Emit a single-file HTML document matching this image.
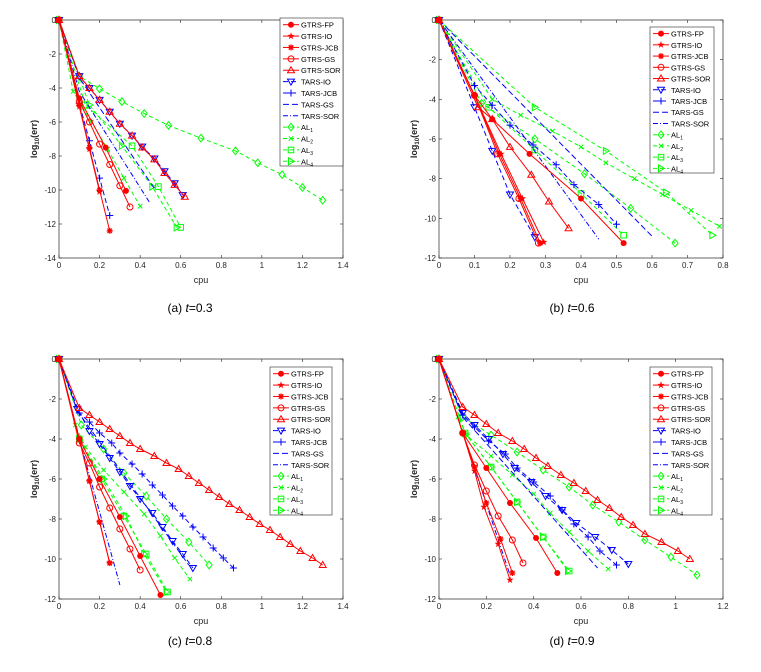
<!DOCTYPE html>
<html><head><meta charset="utf-8"><style>
body{margin:0;background:#fff;width:761px;height:672px;overflow:hidden}
svg{display:block}
text{font-family:"Liberation Sans",sans-serif}
</style></head><body>
<svg id="fig" width="761" height="672" viewBox="0 0 761 672"></svg>
<script>
// ---------- data: panel (a) t=0.3 ----------
const a_FP=[[0,0],[0.1,-4.6],[0.23,-7.5],[0.33,-10.05]];
const a_IO=[[0,0],[0.1,-5.1],[0.15,-7.6],[0.2,-10.1]];
const a_JCB=[[0,0],[0.1,-5],[0.15,-7.5],[0.2,-10],[0.25,-12.4]];
const a_GS=[[0,0],[0.1,-4.8],[0.15,-6],[0.2,-7.3],[0.25,-8.5],[0.3,-9.75],[0.35,-11]];
const a_SOR=[[0,0],[0.1,-3.3],[0.15,-4],[0.2,-4.7],[0.25,-5.4],[0.3,-6.1],[0.36,-6.8],[0.41,-7.5],[0.47,-8.2],[0.52,-9],[0.57,-9.7],[0.62,-10.4]];
const a_TIO=[[0,0],[0.1,-3.3],[0.15,-4],[0.2,-4.7],[0.25,-5.4],[0.3,-6.1],[0.36,-6.8],[0.41,-7.45],[0.47,-8.15],[0.52,-8.9],[0.57,-9.6],[0.61,-10.3]];
const a_TJCB=[[0,0],[0.1,-4.9],[0.15,-7.1],[0.2,-9.3],[0.25,-11.5]];
const a_TGS=[[0,0],[0.1,-3.4],[0.47,-9.9]];
const a_TSOR=[[0,0],[0.1,-4.2],[0.45,-10.8]];
const a_AL1=[[0,0],[0.1,-3.3],[0.2,-4.05],[0.31,-4.8],[0.42,-5.5],[0.54,-6.2],[0.7,-6.95],[0.87,-7.7],[0.98,-8.4],[1.1,-9.1],[1.2,-9.85],[1.3,-10.6]];
const a_AL2=[[0,0],[0.07,-4.2],[0.16,-6],[0.24,-7.6],[0.32,-9.3],[0.4,-10.95]];
const a_AL3=[[0,0],[0.13,-5],[0.36,-7.4],[0.49,-9.8],[0.6,-12.2]];
const a_AL4=[[0,0],[0.15,-5],[0.31,-7.4],[0.46,-9.8],[0.58,-12.2]];
// ---------- panel (b) t=0.6 ----------
const b_FP=[[0,0],[0.1,-3.8],[0.15,-5],[0.255,-6.75],[0.4,-9],[0.52,-11.25]];
const b_IO=[[0,0],[0.1,-3.8],[0.175,-6.75],[0.235,-9],[0.295,-11.2]];
const b_JCB=[[0,0],[0.1,-3.8],[0.17,-6.75],[0.23,-9],[0.285,-11.25]];
const b_GS=[[0,0],[0.1,-3.8],[0.165,-6.75],[0.225,-9],[0.28,-11.25]];
const b_SOR=[[0,0],[0.11,-4.4],[0.15,-5],[0.2,-6.4],[0.26,-7.8],[0.31,-9.15],[0.365,-10.5]];
const b_TIO=[[0,0],[0.1,-4.4],[0.15,-6.6],[0.2,-8.8],[0.27,-10.95]];
const b_TJCB=[[0,0],[0.1,-3.3],[0.15,-4.3],[0.2,-5.3],[0.265,-6.3],[0.33,-7.3],[0.38,-8.3],[0.45,-9.3],[0.5,-10.3]];
const b_TGS=[[0,0],[0.6,-10.9]];
const b_TSOR=[[0,0],[0.45,-11.05]];
const b_AL1=[[0,0],[0.12,-4.2],[0.27,-6],[0.41,-7.75],[0.54,-9.5],[0.665,-11.25]];
const b_AL2=[[0,0],[0.15,-4],[0.23,-4.8],[0.32,-5.6],[0.4,-6.4],[0.47,-7.2],[0.55,-8],[0.63,-8.8],[0.71,-9.6],[0.79,-10.4]];
const b_AL3=[[0,0],[0.14,-4.4],[0.27,-6.55],[0.4,-8.75],[0.52,-10.85]];
const b_AL4=[[0,0],[0.27,-4.4],[0.47,-6.6],[0.64,-8.7],[0.77,-10.85]];
// ---------- panel (c) t=0.8 ----------
const c_FP=[[0,0],[0.1,-4],[0.2,-6],[0.3,-7.9],[0.4,-9.85],[0.5,-11.8]];
const c_IO=[[0,0],[0.1,-4],[0.15,-6.1],[0.2,-8.15],[0.25,-10.2]];
const c_JCB=[[0,0],[0.1,-4],[0.15,-6.1],[0.2,-8.15],[0.25,-10.2]];
const c_GS=[[0,0],[0.1,-4.2],[0.15,-5.2],[0.2,-6.4],[0.25,-7.45],[0.3,-8.5],[0.35,-9.5],[0.4,-10.55]];
const c_SOR=[[0,0],[0.1,-2.45],[0.15,-2.8],[0.2,-3.15],[0.25,-3.5],[0.3,-3.85],[0.35,-4.2],[0.4,-4.5],[0.47,-4.85],[0.53,-5.2],[0.59,-5.5],[0.64,-5.85],[0.69,-6.2],[0.74,-6.55],[0.79,-6.9],[0.84,-7.25],[0.89,-7.55],[0.94,-7.9],[0.99,-8.25],[1.04,-8.55],[1.09,-8.9],[1.14,-9.25],[1.19,-9.6],[1.25,-9.95],[1.3,-10.3]];
const c_TIO=[[0,0],[0.09,-2.5],[0.15,-3.6],[0.2,-4.25],[0.25,-4.95],[0.3,-5.65],[0.35,-6.35],[0.4,-7],[0.46,-7.7],[0.51,-8.4],[0.56,-9.1],[0.61,-9.75],[0.66,-10.45]];
const c_TJCB=[[0,0],[0.1,-2.7],[0.15,-3.15],[0.2,-3.7],[0.26,-4.2],[0.3,-4.7],[0.36,-5.25],[0.41,-5.75],[0.46,-6.3],[0.51,-6.8],[0.56,-7.35],[0.61,-7.85],[0.66,-8.4],[0.71,-8.9],[0.76,-9.45],[0.81,-9.95],[0.86,-10.45]];
const c_TGS=[[0,0],[0.09,-2.6],[0.64,-10.3]];
const c_TSOR=[[0,0],[0.1,-4],[0.3,-11.3]];
const c_AL1=[[0,0],[0.11,-3.3],[0.22,-4.5],[0.32,-5.7],[0.43,-6.85],[0.53,-8],[0.64,-9.15],[0.74,-10.3]];
const c_AL2=[[0,0],[0.08,-3.3],[0.13,-4.4],[0.22,-5.55],[0.32,-6.65],[0.42,-7.75],[0.5,-8.85],[0.57,-9.95],[0.645,-11]];
const c_AL3=[[0,0],[0.1,-4],[0.21,-6],[0.32,-7.85],[0.43,-9.75],[0.535,-11.65]];
const c_AL4=[[0,0],[0.1,-4],[0.22,-6],[0.33,-7.85],[0.42,-9.75],[0.53,-11.65]];
// ---------- panel (d) t=0.9 ----------
const d_FP=[[0,0],[0.1,-3.7],[0.2,-5.45],[0.3,-7.2],[0.41,-8.95],[0.5,-10.7]];
const d_IO=[[0,0],[0.1,-3.7],[0.15,-5.6],[0.19,-7.4],[0.25,-9.25],[0.3,-11.05]];
const d_JCB=[[0,0],[0.1,-3.7],[0.15,-5.4],[0.2,-7.2],[0.26,-9],[0.31,-10.7]];
const d_GS=[[0,0],[0.1,-3.7],[0.15,-5.3],[0.2,-6.6],[0.25,-7.85],[0.31,-9.05],[0.355,-10.2]];
const d_SOR=[[0,0],[0.1,-2.4],[0.15,-2.8],[0.2,-3.25],[0.25,-3.7],[0.31,-4.1],[0.36,-4.5],[0.41,-4.95],[0.46,-5.35],[0.515,-5.8],[0.57,-6.2],[0.62,-6.6],[0.67,-7.05],[0.72,-7.45],[0.77,-7.9],[0.82,-8.3],[0.87,-8.75],[0.94,-9.15],[1.01,-9.6],[1.06,-10]];
const d_TIO=[[0,0],[0.1,-2.7],[0.15,-3.3],[0.21,-4],[0.27,-4.75],[0.32,-5.45],[0.39,-6.15],[0.45,-6.85],[0.52,-7.55],[0.58,-8.2],[0.66,-8.9],[0.73,-9.55],[0.8,-10.25]];
const d_TJCB=[[0,0],[0.1,-2.8],[0.15,-3.4],[0.21,-4.1],[0.28,-4.75],[0.33,-5.45],[0.4,-6.15],[0.47,-6.85],[0.52,-7.55],[0.57,-8.25],[0.63,-8.9],[0.68,-9.6],[0.75,-10.3]];
const d_TGS=[[0,0],[0.1,-2.9],[0.67,-10.45]];
const d_TSOR=[[0,0],[0.1,-3.7],[0.3,-10.8]];
const d_AL1=[[0,0],[0.1,-2.9],[0.22,-3.8],[0.33,-4.65],[0.44,-5.55],[0.55,-6.4],[0.65,-7.3],[0.76,-8.15],[0.87,-9.05],[0.98,-9.9],[1.09,-10.8]];
const d_AL2=[[0,0],[0.08,-2.9],[0.12,-3.85],[0.22,-4.85],[0.31,-5.8],[0.4,-6.75],[0.47,-7.7],[0.55,-8.65],[0.63,-9.6],[0.715,-10.5]];
const d_AL3=[[0,0],[0.11,-3.7],[0.22,-5.4],[0.33,-7.15],[0.44,-8.9],[0.55,-10.6]];
const d_AL4=[[0,0],[0.11,-3.7],[0.22,-5.4],[0.33,-7.15],[0.44,-8.9],[0.545,-10.6]];

const seriesNames=["GTRS-FP","GTRS-IO","GTRS-JCB","GTRS-GS","GTRS-SOR","TARS-IO","TARS-JCB","TARS-GS","TARS-SOR","AL1","AL2","AL3","AL4"];
const xTicksA=[0,0.2,0.4,0.6,0.8,1,1.2,1.4];
const xTicksB=[0,0.1,0.2,0.3,0.4,0.5,0.6,0.7,0.8];
const xTicksD=[0,0.2,0.4,0.6,0.8,1,1.2];
const yTicks14=[0,-2,-4,-6,-8,-10,-12,-14];
const yTicks12=[0,-2,-4,-6,-8,-10,-12];
const panelIds=["a","b","c","d"];
const panelT=["0.3","0.6","0.8","0.9"];

const panels=[
 {id:"a",L:59,R:343,T:20,B:258,xmax:1.4,ymin:-14,xt:xTicksA,yt:yTicks14,leg:[280,18,63,148],d:[a_FP,a_IO,a_JCB,a_GS,a_SOR,a_TIO,a_TJCB,a_TGS,a_TSOR,a_AL1,a_AL2,a_AL3,a_AL4],cap:[190,312]},
 {id:"b",L:439,R:723,T:20,B:258,xmax:0.8,ymin:-12,xt:xTicksB,yt:yTicks12,leg:[650,27,64,146],d:[b_FP,b_IO,b_JCB,b_GS,b_SOR,b_TIO,b_TJCB,b_TGS,b_TSOR,b_AL1,b_AL2,b_AL3,b_AL4],cap:[572,312]},
 {id:"c",L:59,R:343,T:359,B:599,xmax:1.4,ymin:-12,xt:xTicksA,yt:yTicks12,leg:[270,367,62,148],d:[c_FP,c_IO,c_JCB,c_GS,c_SOR,c_TIO,c_TJCB,c_TGS,c_TSOR,c_AL1,c_AL2,c_AL3,c_AL4],cap:[190,645]},
 {id:"d",L:439,R:723,T:359,B:599,xmax:1.2,ymin:-12,xt:xTicksD,yt:yTicks12,leg:[650,367,62,148],d:[d_FP,d_IO,d_JCB,d_GS,d_SOR,d_TIO,d_TJCB,d_TGS,d_TSOR,d_AL1,d_AL2,d_AL3,d_AL4],cap:[572,645]}
];
const styles=[
 {c:"#f00",dash:"",m:"hex"},{c:"#f00",dash:"",m:"star"},{c:"#f00",dash:"",m:"ast"},{c:"#f00",dash:"",m:"circ"},{c:"#f00",dash:"",m:"tri"},
 {c:"#00f",dash:"5,3",m:"vtri"},{c:"#00f",dash:"5,3",m:"plus"},{c:"#00f",dash:"6,3",m:""},{c:"#00f",dash:"5,2,1,2",m:""},
 {c:"#0f0",dash:"4,3",m:"diam"},{c:"#0f0",dash:"4,3",m:"x"},{c:"#0f0",dash:"4,3",m:"sq"},{c:"#0f0",dash:"4,3",m:"rtri"}
];
const NS="http://www.w3.org/2000/svg";
const svg=document.getElementById("fig");
function mk(tag,attrs,parent){const e=document.createElementNS(NS,tag);for(const k in attrs)e.setAttribute(k,attrs[k]);(parent||svg).appendChild(e);return e;}
function marker(g,type,x,y,c){
 const s=3;let e;
 if(type==="circ")e=mk("circle",{cx:x,cy:y,r:s,fill:"none",stroke:c,"stroke-width":1},g);
 else if(type==="hex"){e=mk("circle",{cx:x,cy:y,r:2.6,fill:c,stroke:c,"stroke-width":0.8},g);}
 else if(type==="star"){let p=[];for(let i=0;i<10;i++){const r=i%2?1.5:3.8;const a=-Math.PI/2+i*Math.PI/5;p.push((x+r*Math.cos(a)).toFixed(1)+","+(y+r*Math.sin(a)).toFixed(1));}e=mk("polygon",{points:p.join(" "),fill:c},g);}
 else if(type==="ast"){e=mk("path",{d:`M${x-3} ${y}H${x+3}M${x} ${y-3}V${y+3}M${x-2.2} ${y-2.2}L${x+2.2} ${y+2.2}M${x-2.2} ${y+2.2}L${x+2.2} ${y-2.2}`,stroke:c,"stroke-width":1.3},g);}
 else if(type==="tri")e=mk("polygon",{points:`${x},${y-3.5} ${x-3.5},${y+2.5} ${x+3.5},${y+2.5}`,fill:"none",stroke:c,"stroke-width":1},g);
 else if(type==="vtri")e=mk("polygon",{points:`${x},${y+3.5} ${x-3.5},${y-2.5} ${x+3.5},${y-2.5}`,fill:"none",stroke:c,"stroke-width":1},g);
 else if(type==="rtri")e=mk("polygon",{points:`${x+3.5},${y} ${x-2.5},${y-3.5} ${x-2.5},${y+3.5}`,fill:"none",stroke:c,"stroke-width":1},g);
 else if(type==="plus")e=mk("path",{d:`M${x-3.5} ${y}H${x+3.5}M${x} ${y-3.5}V${y+3.5}`,stroke:c,"stroke-width":1},g);
 else if(type==="x")e=mk("path",{d:`M${x-2.2} ${y-2.2}L${x+2.2} ${y+2.2}M${x-2.2} ${y+2.2}L${x+2.2} ${y-2.2}`,stroke:c,"stroke-width":1},g);
 else if(type==="sq")e=mk("rect",{x:x-2.8,y:y-2.8,width:5.6,height:5.6,fill:"none",stroke:c,"stroke-width":1},g);
 else if(type==="diam")e=mk("polygon",{points:`${x},${y-3.8} ${x+3},${y} ${x},${y+3.8} ${x-3},${y}`,fill:"none",stroke:c,"stroke-width":1},g);
 if(e){
 }
}
panels.forEach((p,pi)=>{
 const X=v=>p.L+(v/p.xmax)*(p.R-p.L);
 const Y=v=>p.T+(v/p.ymin)*(p.B-p.T);
 const g=mk("g",{});
 
 
 const ax=mk("rect",{x:p.L,y:p.T,width:p.R-p.L,height:p.B-p.T,fill:"#fff",stroke:"#262626","stroke-width":0.7},g);
 
 
 p.xt.forEach(t=>{const x=X(t);
  mk("line",{x1:x,x2:x,y1:p.B,y2:p.B-3,stroke:"#262626","stroke-width":0.6},g);
  mk("line",{x1:x,x2:x,y1:p.T,y2:p.T+3,stroke:"#262626","stroke-width":0.6},g);
  const tx=mk("text",{x:x,y:p.B+10,"font-size":8,"text-anchor":"middle",fill:"#262626"},g);tx.textContent=String(t);
  
  });
 p.yt.forEach(t=>{const y=Y(t);
  mk("line",{x1:p.L,x2:p.L+3,y1:y,y2:y,stroke:"#262626","stroke-width":0.6},g);
  mk("line",{x1:p.R,x2:p.R-3,y1:y,y2:y,stroke:"#262626","stroke-width":0.6},g);
  const tx=mk("text",{x:p.L-3,y:y+3,"font-size":8,"text-anchor":"end",fill:"#262626"},g);tx.textContent=String(t);
  
  });
 const xl=mk("text",{x:(p.L+p.R)/2,y:p.B+25,"font-size":9,"text-anchor":"middle",fill:"#262626"},g);xl.textContent="cpu";
 
 
 const cy=(p.T+p.B)/2;
 const yl=mk("text",{x:p.L-22,y:cy,"font-size":9,"font-weight":"bold","text-anchor":"middle",fill:"#262626",transform:`rotate(-90 ${p.L-22} ${cy})`},g);
 yl.innerHTML='log<tspan font-size="6" dy="2">10</tspan><tspan dy="-2">(err)</tspan>';
 
 
 // series: draw in reverse so red on top
 for(let si=12;si>=0;si--){const st=styles[si];const pts=p.d[si];
  const sg=mk("g",{},g);
  
  
  const pl=mk("polyline",{points:pts.map(q=>X(q[0]).toFixed(1)+","+Y(q[1]).toFixed(1)).join(" "),fill:"none",stroke:st.c,"stroke-width":1,"stroke-dasharray":st.dash},sg);
  
  
  if(st.m)pts.forEach(q=>marker(sg,st.m,X(q[0]),Y(q[1]),st.c));
 }
 // legend
 const [lx,ly,lw,lh]=p.leg;
 const lg=mk("g",{},g);
 
 
 mk("rect",{x:lx,y:ly,width:lw,height:lh,fill:"#fff",stroke:"#262626","stroke-width":0.6},lg);
 const rh=lh/13;
 seriesNames.forEach((n,i)=>{const st=styles[i];const yy=ly+rh*(i+0.5)+1;
  const eg=mk("g",{},lg);
  
  
  mk("line",{x1:lx+3,x2:lx+19,y1:yy,y2:yy,stroke:st.c,"stroke-width":1,"stroke-dasharray":st.dash},eg);
  if(st.m)marker(eg,st.m,lx+11,yy,st.c);
  const t=mk("text",{x:lx+21,y:yy+3,"font-size":7.5,fill:"#000"},eg);
  if(n.startsWith("AL"))t.innerHTML='AL<tspan font-size="5" dy="2">'+n[2]+'</tspan>';else t.textContent=n;
 });
 const cap=mk("text",{x:p.cap[0],y:p.cap[1],"font-size":12,"text-anchor":"middle",fill:"#000","font-family":"Liberation Serif, serif"});
 cap.innerHTML='('+p.id+')  <tspan font-style="italic">t</tspan>='+panelT[pi];
 
 
});
</script>
</body></html>
